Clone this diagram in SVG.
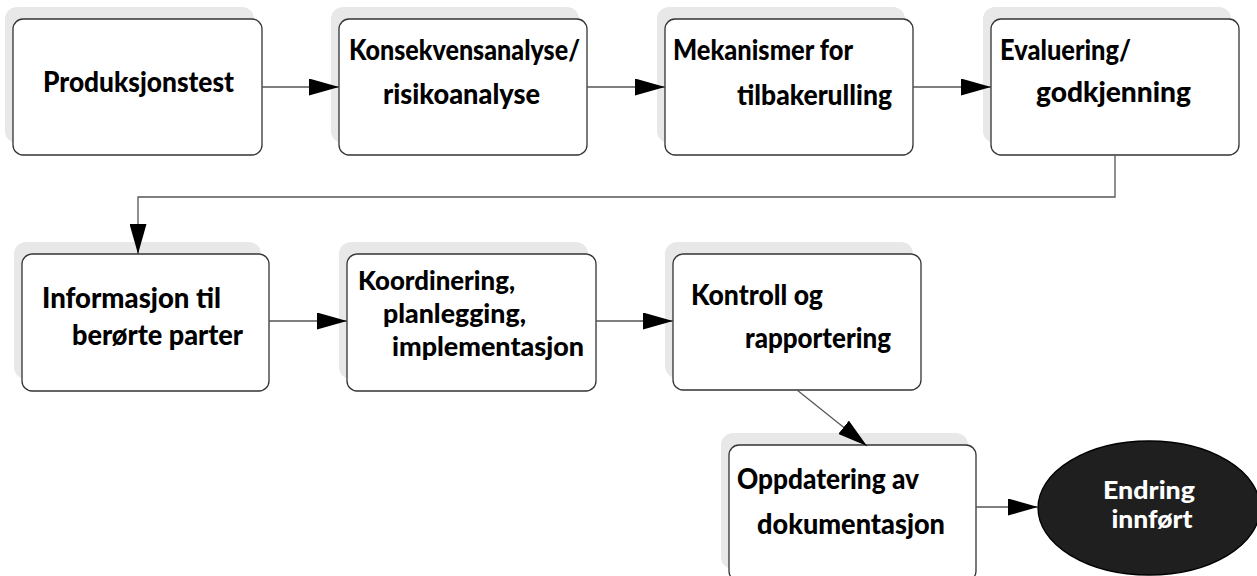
<svg xmlns="http://www.w3.org/2000/svg" width="1257" height="576" viewBox="0 0 1257 576">
<style>
.shadow{fill:#e8e8e8;}
.box{fill:#ffffff;stroke:#333333;stroke-width:1.3;}
.lbl{font-family:Lato,"Open Sans","Liberation Sans",sans-serif;font-weight:900;font-size:28px;fill:#000000;}
.lbl3{font-size:27px;}
.wlbl{font-family:Lato,"Open Sans","Liberation Sans",sans-serif;font-weight:900;font-size:24px;fill:#ffffff;text-anchor:middle;}
.conn{fill:none;stroke:#555555;stroke-width:1.3;}
</style>
<defs>
<marker id="arr" markerUnits="userSpaceOnUse" markerWidth="30" markerHeight="17" refX="30" refY="8.5" orient="auto">
<path d="M0,0 L30,8.5 L0,17 z" fill="#000000"/>
</marker>
</defs>
<rect width="1257" height="576" fill="#ffffff"/>
<g id="n1">
<rect class="shadow" x="5" y="7" width="249" height="136" rx="12"/>
<rect class="box" x="13" y="19" width="249" height="136" rx="10"/>
<text class="lbl" x="43" y="92" textLength="191" lengthAdjust="spacingAndGlyphs">Produksjonstest</text>
</g>
<g id="n2">
<rect class="shadow" x="331" y="7" width="248" height="136" rx="12"/>
<rect class="box" x="339" y="19" width="248" height="136" rx="10"/>
<text class="lbl" x="349" y="60" textLength="231" lengthAdjust="spacingAndGlyphs">Konsekvensanalyse/</text>
<text class="lbl" x="383" y="104" textLength="157" lengthAdjust="spacingAndGlyphs">risikoanalyse</text>
</g>
<g id="n3">
<rect class="shadow" x="657" y="7" width="248" height="136" rx="12"/>
<rect class="box" x="665" y="19" width="248" height="136" rx="10"/>
<text class="lbl" x="673" y="60" textLength="180" lengthAdjust="spacingAndGlyphs">Mekanismer for</text>
<text class="lbl" x="737" y="105" textLength="155" lengthAdjust="spacingAndGlyphs">tilbakerulling</text>
</g>
<g id="n4">
<rect class="shadow" x="983" y="7" width="248" height="136" rx="12"/>
<rect class="box" x="991" y="19" width="248" height="136" rx="10"/>
<text class="lbl" x="1000" y="60" textLength="131" lengthAdjust="spacingAndGlyphs">Evaluering/</text>
<text class="lbl" x="1036" y="102" textLength="155" lengthAdjust="spacingAndGlyphs">godkjenning</text>
</g>
<g id="n5">
<rect class="shadow" x="14" y="242" width="247" height="137" rx="12"/>
<rect class="box" x="22" y="254" width="247" height="137" rx="10"/>
<text class="lbl" x="42" y="308" textLength="179" lengthAdjust="spacingAndGlyphs">Informasjon til</text>
<text class="lbl" x="72" y="345" textLength="171" lengthAdjust="spacingAndGlyphs">berørte parter</text>
</g>
<g id="n6">
<rect class="shadow" x="339" y="242" width="249" height="137" rx="12"/>
<rect class="box" x="347" y="254" width="249" height="137" rx="10"/>
<text class="lbl lbl3" x="358" y="290" textLength="157" lengthAdjust="spacingAndGlyphs">Koordinering,</text>
<text class="lbl lbl3" x="383" y="323" textLength="143" lengthAdjust="spacingAndGlyphs">planlegging,</text>
<text class="lbl lbl3" x="392" y="356" textLength="192" lengthAdjust="spacingAndGlyphs">implementasjon</text>
</g>
<g id="n7">
<rect class="shadow" x="665" y="242" width="248" height="136" rx="12"/>
<rect class="box" x="673" y="254" width="248" height="136" rx="10"/>
<text class="lbl" x="691" y="305" textLength="132" lengthAdjust="spacingAndGlyphs">Kontroll og</text>
<text class="lbl" x="745" y="348" textLength="146" lengthAdjust="spacingAndGlyphs">rapportering</text>
</g>
<g id="n8">
<rect class="shadow" x="721" y="433" width="247" height="136" rx="12"/>
<rect class="box" x="729" y="445" width="247" height="136" rx="10"/>
<text class="lbl" x="737" y="489" textLength="182" lengthAdjust="spacingAndGlyphs">Oppdatering av</text>
<text class="lbl" x="757" y="534" textLength="188" lengthAdjust="spacingAndGlyphs">dokumentasjon</text>
</g>
<g id="n9">
<ellipse cx="1149" cy="508" rx="111" ry="67" fill="#1f1f1f" stroke="#000000" stroke-width="1.3"/>
<text class="wlbl" x="1149" y="499" textLength="92" lengthAdjust="spacingAndGlyphs">Endring</text>
<text class="wlbl" x="1152" y="528" textLength="81" lengthAdjust="spacingAndGlyphs">innført</text>
</g>
<g id="connectors">
<path class="conn" d="M262,87 H339" marker-end="url(#arr)"/>
<path class="conn" d="M587,87 H665" marker-end="url(#arr)"/>
<path class="conn" d="M913,87 H991" marker-end="url(#arr)"/>
<path class="conn" d="M1115,155 V197 H138 V254" marker-end="url(#arr)"/>
<path class="conn" d="M269,321 H347" marker-end="url(#arr)"/>
<path class="conn" d="M596,321 H673" marker-end="url(#arr)"/>
<path class="conn" d="M797,390 L867,446" marker-end="url(#arr)"/>
<path class="conn" d="M976,507 H1038" marker-end="url(#arr)"/>
</g>
</svg>
